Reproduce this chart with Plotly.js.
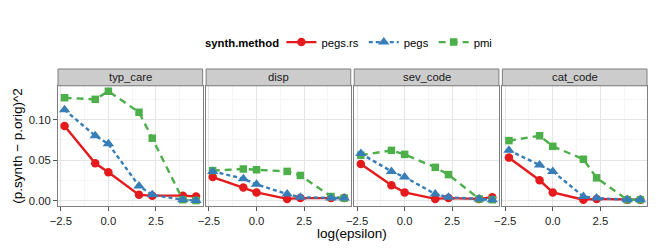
<!DOCTYPE html>
<html>
<head>
<meta charset="utf-8">
<script src="https://cdn.plot.ly/plotly-3.0.1.min.js"></script>
<style>html,body{margin:0;padding:0;background:#fff;}#chart{width:664px;height:249px;}</style>
</head>
<body>
<div id="chart"></div>
<script>
// log(epsilon) values, epsilon = 0.1, 0.5, 1, 5, 10, 50, 100
const logEpsilon = [-2.303, -0.693, 0, 1.609, 2.303, 3.912, 4.605];
const panels = ["typ_care", "disp", "sev_code", "cat_code"];
const methods = ["pegs.rs", "pegs", "pmi"];
const legendTitle = "synth.method";

const pegsRs = {
  typ_care: [0.092, 0.046, 0.035, 0.007, 0.006, 0.006, 0.005],
  disp:     [0.029, 0.016, 0.010, 0.002, 0.003, 0.003, 0.003],
  sev_code: [0.045, 0.019, 0.010, 0.002, 0.003, 0.002, 0.004],
  cat_code: [0.053, 0.025, 0.010, 0.001, 0.002, 0.001, 0.001]
};
const pegs = {
  typ_care: [0.112, 0.080, 0.070, 0.018, 0.007, 0.001, 0.000],
  disp:     [0.036, 0.027, 0.020, 0.008, 0.004, 0.003, 0.003],
  sev_code: [0.058, 0.036, 0.029, 0.008, 0.004, 0.002, 0.001],
  cat_code: [0.062, 0.044, 0.036, 0.005, 0.003, 0.001, 0.001]
};
const pmi = {
  typ_care: [0.127, 0.125, 0.135, 0.109, 0.077, 0.001, 0.000],
  disp:     [0.037, 0.039, 0.038, 0.036, 0.031, 0.005, 0.003],
  sev_code: [0.056, 0.062, 0.057, 0.041, 0.032, 0.002, 0.001],
  cat_code: [0.074, 0.080, 0.067, 0.051, 0.028, 0.001, 0.001]
};
const yTickVals = [0, 0.05, 0.10];

const styles = {
  "pegs.rs": {color: "#E41A1C", dash: "solid", symbol: "circle", size: 8.5, rank: 1, data: pegsRs},
  "pmi":     {color: "#4DAF4A", dash: "7px,5px", symbol: "square", size: 7.5, rank: 3, data: pmi},
  "pegs":    {color: "#377EB8", dash: "4px,3px", symbol: "triangle-up", size: 10, rank: 2, data: pegs}
};
const drawOrder = ["pegs.rs", "pmi", "pegs"];

const L = 57.5, R = 646.8, T = 69.3, B = 205.7, W = 664, H = 249;
const gap = 3.5;
const pw = ((R - L) - 3 * gap) / 4;
const stripFrac = (B - 86) / (B - T);
const px2x = v => (v - L) / (R - L);
const px2y = v => (B - v) / (B - T);

const traces = [];
panels.forEach((p, i) => {
  const ax = i === 0 ? "" : String(i + 1);
  drawOrder.forEach(m => {
    const s = styles[m];
    traces.push({
      x: logEpsilon, y: s.data[p], type: "scatter", mode: "lines+markers",
      name: m, legendgroup: m, legendrank: s.rank, showlegend: i === 0,
      xaxis: "x" + ax, yaxis: "y" + ax,
      line: {color: s.color, width: 2.4, dash: s.dash},
      marker: {color: s.color, symbol: s.symbol, size: s.size, line: {width: 0}},
      cliponaxis: false
    });
  });
});

const font = "Liberation Sans, Arial, sans-serif";
const layout = {
  width: W, height: H,
  margin: {l: L, r: W - R, t: T, b: H - B, pad: 0},
  paper_bgcolor: "#fff", plot_bgcolor: "#fff",
  font: {family: font, size: 11.3, color: "#222"},
  showlegend: true,
  legend: {
    orientation: "h", x: px2x(281), xanchor: "left",
    y: px2y(42.5), yanchor: "middle",
    font: {size: 11.3, color: "#000"}, bgcolor: "rgba(0,0,0,0)",
    traceorder: "normal", itemclick: false
  },
  shapes: [], annotations: []
};

panels.forEach((p, i) => {
  const ax = i === 0 ? "" : String(i + 1);
  const x0 = (i * (pw + gap)) / (R - L);
  const x1 = (i * (pw + gap) + pw) / (R - L);
  layout["xaxis" + ax] = {
    domain: [x0, x1], anchor: "y" + ax, range: [-2.648, 4.951],
    tickmode: "array", tickvals: [-2.5, 0, 2.5], ticktext: ["\u22122.5", "0.0", "2.5"],
    ticks: "outside", ticklen: 4, tickcolor: "#555", tickwidth: 1,
    showline: true, mirror: true, linecolor: "#7f7f7f", linewidth: 1,
    showgrid: true, gridcolor: "#e5e5e5", gridwidth: 1, zeroline: false,
    minor: {tickmode: "array", tickvals: [-1.25, 1.25, 3.75], showgrid: true, gridcolor: "#f5f5f5", ticks: ""},
    tickfont: {size: 11.3, color: "#222"}, fixedrange: true
  };
  layout["yaxis" + ax] = {
    domain: [0, stripFrac], anchor: "x" + ax, range: [-0.00675, 0.14175],
    tickmode: "array", tickvals: yTickVals, tickformat: ".2f",
    showticklabels: i === 0, ticks: i === 0 ? "outside" : "", ticklen: 4, tickcolor: "#555",
    showline: true, mirror: true, linecolor: "#7f7f7f", linewidth: 1,
    showgrid: true, gridcolor: "#e5e5e5", gridwidth: 1, zeroline: false,
    minor: {tickmode: "array", tickvals: [0.025, 0.075, 0.125], showgrid: true, gridcolor: "#f5f5f5", ticks: ""},
    tickfont: {size: 11.3, color: "#222"}, fixedrange: true,
    title: i === 0 ? {text: "(p.synth \u2212 p.orig)^2", font: {size: 13.5, color: "#000"}, standoff: 3} : {text: ""}
  };
  layout.shapes.push({
    type: "rect", xref: "x" + ax + " domain", yref: "paper",
    x0: 0, x1: 1, y0: stripFrac, y1: 1.0,
    fillcolor: "#cccccc", line: {color: "#7f7f7f", width: 1}, layer: "above"
  });
  layout.annotations.push({
    text: p, xref: "x" + ax + " domain", yref: "paper", x: 0.5, y: (stripFrac + 1) / 2,
    xanchor: "center", yanchor: "middle", showarrow: false,
    font: {size: 11.3, color: "#1a1a1a"}
  });
});

layout.annotations.push({
  text: "<b>" + legendTitle + "</b>", xref: "paper", yref: "paper",
  x: px2x(281), y: px2y(43), xanchor: "right", yanchor: "middle", showarrow: false,
  font: {size: 11.3, color: "#000"}
});
layout.annotations.push({
  text: "log(epsilon)", xref: "paper", yref: "paper",
  x: px2x(352), y: px2y(233),
  xanchor: "center", yanchor: "middle", showarrow: false,
  font: {size: 13.5, color: "#000"}
});

Plotly.newPlot("chart", traces, layout, {displayModeBar: false, staticPlot: true});
</script>
</body>
</html>
